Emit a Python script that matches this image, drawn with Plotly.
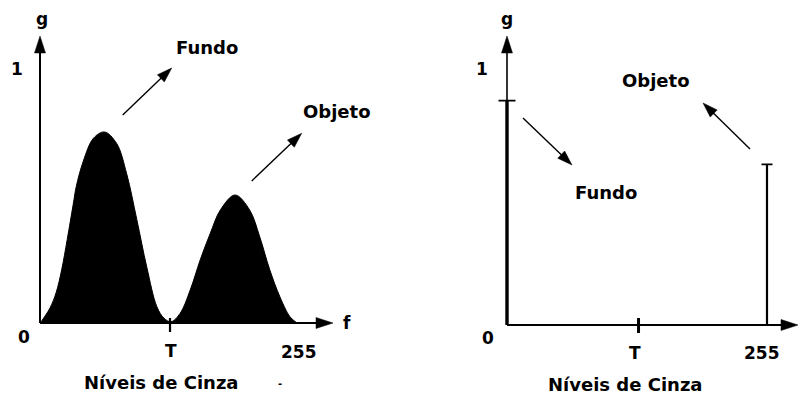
import math
import plotly.graph_objects as go

W, H = 804, 396

# ---------------- data ----------------
# Left panel: bimodal grey-level histogram (f = grey level, g = relative frequency)
hist_f = [0, 2, 10, 16, 21.5, 27, 33, 36, 43, 53, 64, 76, 86, 96, 106, 116, 123, 130,
          139, 149, 159, 169, 179, 193.5, 208, 218, 228, 238, 248, 255]
hist_g = [0, 0.01, 0.06, 0.12, 0.21, 0.33, 0.47, 0.54, 0.64, 0.73, 0.755, 0.71, 0.59, 0.41,
          0.22, 0.064, 0.019, 0.005, 0.038, 0.13, 0.25, 0.355, 0.447, 0.506, 0.447, 0.341,
          0.21, 0.104, 0.025, 0]
threshold = 129

# Right panel: histogram after thresholding (two spikes)
thr_f = [0, 255]
thr_g = [0.88, 0.63]

# Text
tick_zero, tick_one, tick_T, tick_max = "0", "1", "T", "255"
y_name, x_name = "g", "f"
x_title = "Níveis de Cinza"
lab_fundo, lab_objeto = "Fundo", "Objeto"

# ---------------- layout frames ----------------
FONT = "DejaVu Sans"
panels = {
    "L": dict(ox=40, oy=323, sx=257 / 255, sy=253, xa="x", ya="y"),
    "R": dict(ox=507, oy=325, sx=260 / 255, sy=255, xa="x2", ya="y2"),
}
panels["L"].update(xr=(-10, 293 / panels["L"]["sx"]), yr=(-0.08, 287 / 253))
panels["R"].update(xr=(-14, 291 / panels["R"]["sx"]), yr=(-0.08, 289 / 255))


def d2p(k, f, g):
    P = panels[k]
    return P["ox"] + f * P["sx"], P["oy"] - g * P["sy"]


def paper(px, py):
    return px / W, 1 - py / H


def domains(k):
    P = panels[k]
    x0 = (P["ox"] + P["xr"][0] * P["sx"]) / W
    x1 = (P["ox"] + P["xr"][1] * P["sx"]) / W
    y0 = 1 - (P["oy"] - P["yr"][0] * P["sy"]) / H
    y1 = 1 - (P["oy"] - P["yr"][1] * P["sy"]) / H
    return [x0, x1], [y0, y1]


shapes = []
annotations = []


def arrow(p0, p1, head_len=15, head_w=10, lw=1.5):
    dx, dy = p1[0] - p0[0], p1[1] - p0[1]
    L = math.hypot(dx, dy)
    ux, uy = dx / L, dy / L
    bx, by = p1[0] - ux * head_len, p1[1] - uy * head_len
    nx, ny = -uy, ux
    a = paper(*p0)
    b = paper(bx + ux * 2, by + uy * 2)
    shapes.append(dict(type="line", xref="paper", yref="paper", x0=a[0], y0=a[1],
                       x1=b[0], y1=b[1], line=dict(color="black", width=lw)))
    pts = [p1, (bx + nx * head_w / 2, by + ny * head_w / 2),
           (bx - nx * head_w / 2, by - ny * head_w / 2)]
    pp = [paper(*q) for q in pts]
    path = "M{:.5f},{:.5f} L{:.5f},{:.5f} L{:.5f},{:.5f} Z".format(*pp[0], *pp[1], *pp[2])
    shapes.append(dict(type="path", xref="paper", yref="paper", path=path,
                       fillcolor="black", line=dict(color="black", width=0.5)))


def text(t, px, py, size=18):
    x, y = paper(px, py)
    annotations.append(dict(text=t, x=x, y=y, xref="paper", yref="paper",
                            xanchor="center", yanchor="middle", showarrow=False,
                            font=dict(family=FONT, size=size, color="black", weight="bold")))


fig = go.Figure()

# ---------------- left panel ----------------
fig.add_trace(go.Scatter(x=hist_f, y=hist_g, mode="lines", fill="tozeroy",
                         fillcolor="black", line=dict(color="black", width=1,
                                                      shape="spline", smoothing=1.0),
                         xaxis="x", yaxis="y", hoverinfo="skip", showlegend=False))
sL = panels["L"]["sy"]
fig.add_trace(go.Scatter(x=[threshold, threshold], y=[5 / sL, -9 / sL], mode="lines",
                         line=dict(color="black", width=2.2), xaxis="x", yaxis="y",
                         hoverinfo="skip", showlegend=False))

# ---------------- right panel ----------------
sxR = panels["R"]["sx"]
bar_w = [3.4, 2.2]
cap_half_px = [8.5, 5.5]
for f, g, w, c in zip(thr_f, thr_g, bar_w, cap_half_px):
    fig.add_trace(go.Scatter(x=[f, f], y=[0, g], mode="lines",
                             line=dict(color="black", width=w), xaxis="x2", yaxis="y2",
                             hoverinfo="skip", showlegend=False))
    fig.add_trace(go.Scatter(x=[f - c / sxR, f + c / sxR], y=[g, g], mode="lines",
                             line=dict(color="black", width=1.8), xaxis="x2", yaxis="y2",
                             hoverinfo="skip", showlegend=False))
sR = panels["R"]["sy"]
fig.add_trace(go.Scatter(x=[threshold, threshold], y=[7 / sR, -8 / sR], mode="lines",
                         line=dict(color="black", width=3), xaxis="x2", yaxis="y2",
                         hoverinfo="skip", showlegend=False))

# ---------------- axes with arrowheads ----------------
for k in ("L", "R"):
    P = panels[k]
    arrow(d2p(k, 0, 0), d2p(k, P["xr"][1], 0), head_len=17, head_w=11, lw=2)
    arrow(d2p(k, 0, 0), d2p(k, 0, P["yr"][1]), head_len=17, head_w=11, lw=2 if k == "L" else 1.6)

# ---------------- labels ----------------
# left
text(y_name, 41.5, 19, 17)
text(tick_one, 17, 69, 17)
text(tick_zero, 23.5, 337, 17)
text(tick_T, 171, 351, 17)
text(tick_max, 298.5, 351.5, 17)
text(x_name, 346.5, 323, 17)
text(x_title, 161.5, 382.5, 18)
text("-", 280, 383, 10)
text(lab_fundo, 206.5, 47.5, 18)
text(lab_objeto, 336.5, 111.5, 18)
arrow((122.7, 115), (171.7, 68), head_len=15, head_w=10, lw=1.4)
arrow((251.7, 181), (301.7, 133.3), head_len=15, head_w=10, lw=1.4)
# right
text(y_name, 507, 19, 17)
text(tick_one, 481.5, 69, 17)
text(tick_zero, 488, 337.5, 17)
text(tick_T, 635, 353, 17)
text(tick_max, 761.5, 353, 17)
text(x_title, 625.5, 384.5, 18)
text(lab_objeto, 656, 80.5, 18)
text(lab_fundo, 605.5, 192.5, 18)
arrow((750, 149), (703, 103), head_len=15, head_w=10, lw=1.4)
arrow((523, 118), (572, 165), head_len=15, head_w=10, lw=1.4)

dxL, dyL = domains("L")
dxR, dyR = domains("R")
axis_common = dict(visible=False, fixedrange=True)
fig.update_layout(
    width=W, height=H, margin=dict(l=0, r=0, t=0, b=0),
    paper_bgcolor="white", plot_bgcolor="rgba(0,0,0,0)", showlegend=False,
    xaxis=dict(domain=dxL, range=list(panels["L"]["xr"]), anchor="y", **axis_common),
    yaxis=dict(domain=dyL, range=list(panels["L"]["yr"]), anchor="x", **axis_common),
    xaxis2=dict(domain=dxR, range=list(panels["R"]["xr"]), anchor="y2", **axis_common),
    yaxis2=dict(domain=dyR, range=list(panels["R"]["yr"]), anchor="x2", **axis_common),
    shapes=shapes, annotations=annotations,
)

fig.write_html(
    "out.html",
    config={"displayModeBar": False},
    post_script="document.body.style.margin='0';document.body.style.padding='0';"
                "document.body.style.overflow='hidden';",
)
